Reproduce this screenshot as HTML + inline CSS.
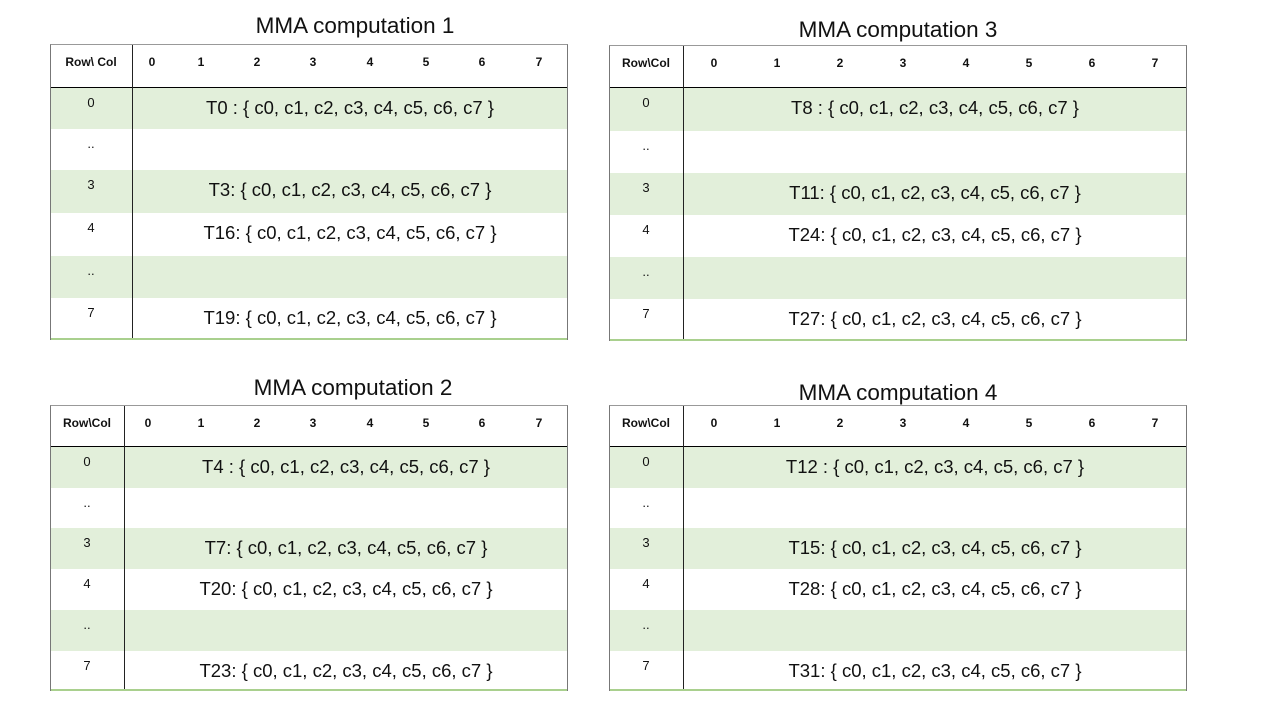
<!DOCTYPE html>
<html><head><meta charset="utf-8"><style>
body{margin:0;width:1280px;height:720px;background:#fff;position:relative;overflow:hidden;font-family:"Liberation Sans",sans-serif;color:#111}
.t{position:absolute;font-size:22.5px;white-space:nowrap;transform:translateX(-50%)}
.tb{position:absolute;border-left:1px solid #777;border-right:1px solid #777;border-top:1px solid #999;box-sizing:border-box}
.hd{position:absolute;left:0;right:0;top:0;border-bottom:1px solid #000}
.r{position:absolute;left:0;right:0}
.g{background:#e2efda}
.vl{position:absolute;top:0;bottom:0;width:1px;background:#222}
.bl{position:absolute;left:0;right:0;bottom:0;height:2px;background:#a9d08e}
.h{position:absolute;font-size:12px;font-weight:bold;transform:translateX(-50%);white-space:nowrap}
.rl{position:absolute;font-size:13px;transform:translateX(-50%)}
.c{position:absolute;font-size:18.5px;white-space:nowrap;transform:translateX(-50%)}
</style></head><body>
<div id="root"></div>
<script>
var T=[
 {title:"MMA computation 1",tx:355,ty:13,x:50,w:518,y:44,hb:87,rows:[87,128,169,212,255,297,340],dv:132,hdr:"Row\\ Col",cols:[152,201,257,313,370,426,482,539],ts:["T0 : { c0, c1, c2, c3, c4, c5, c6, c7 }","","T3: { c0, c1, c2, c3, c4, c5, c6, c7 }","T16: { c0, c1, c2, c3, c4, c5, c6, c7 }","","T19: { c0, c1, c2, c3, c4, c5, c6, c7 }"]},
 {title:"MMA computation 3",tx:898,ty:17,x:609,w:578,y:45,hb:87,rows:[87,130,172,214,256,298,341],dv:683,hdr:"Row\\Col",cols:[714,777,840,903,966,1029,1092,1155],ts:["T8 : { c0, c1, c2, c3, c4, c5, c6, c7 }","","T11: { c0, c1, c2, c3, c4, c5, c6, c7 }","T24: { c0, c1, c2, c3, c4, c5, c6, c7 }","","T27: { c0, c1, c2, c3, c4, c5, c6, c7 }"]},
 {title:"MMA computation 2",tx:353,ty:375,x:50,w:518,y:405,hb:446,rows:[446,487,527,568,609,650,691],dv:124,hdr:"Row\\Col",cols:[148,201,257,313,370,426,482,539],ts:["T4 : { c0, c1, c2, c3, c4, c5, c6, c7 }","","T7: { c0, c1, c2, c3, c4, c5, c6, c7 }","T20: { c0, c1, c2, c3, c4, c5, c6, c7 }","","T23: { c0, c1, c2, c3, c4, c5, c6, c7 }"]},
 {title:"MMA computation 4",tx:898,ty:380,x:609,w:578,y:405,hb:446,rows:[446,487,527,568,609,650,691],dv:683,hdr:"Row\\Col",cols:[714,777,840,903,966,1029,1092,1155],ts:["T12 : { c0, c1, c2, c3, c4, c5, c6, c7 }","","T15: { c0, c1, c2, c3, c4, c5, c6, c7 }","T28: { c0, c1, c2, c3, c4, c5, c6, c7 }","","T31: { c0, c1, c2, c3, c4, c5, c6, c7 }"]}
];
var labels=["0","..","3","4","..","7"];
var h="";
T.forEach(function(t){
 h+='<div class="t" style="left:'+t.tx+'px;top:'+t.ty+'px">'+t.title+'</div>';
 var H=t.rows[6]-t.y;
 h+='<div class="tb" style="left:'+t.x+'px;top:'+t.y+'px;width:'+t.w+'px;height:'+H+'px">';
 for(var i=0;i<6;i++){
  var top=t.rows[i]-t.y, hh=t.rows[i+1]-t.rows[i];
  h+='<div class="r'+(i%2==0?' g':'')+'" style="top:'+top+'px;height:'+hh+'px"></div>';
 }
 h+='<div class="hd" style="height:'+(t.hb-t.y-1)+'px"></div>';
 h+='<div class="vl" style="left:'+(t.dv-t.x-1)+'px"></div>';
 h+='<div class="bl"></div>';
 h+='</div>';
 var lc=(t.x+t.dv)/2;
 h+='<div class="h" style="left:'+lc+'px;top:'+(t.y+11)+'px">'+t.hdr+'</div>';
 t.cols.forEach(function(c,j){h+='<div class="h" style="left:'+c+'px;top:'+(t.y+11)+'px">'+j+'</div>';});
 var cc=(t.dv+t.x+t.w)/2;
 for(var i=0;i<6;i++){
  h+='<div class="rl" style="left:'+lc+'px;top:'+(t.rows[i]+8)+'px">'+labels[i]+'</div>';
  if(t.ts[i])h+='<div class="c" style="left:'+cc+'px;top:'+(t.rows[i]+10)+'px">'+t.ts[i]+'</div>';
 }
});
document.getElementById("root").innerHTML=h;
</script>
</body></html>
